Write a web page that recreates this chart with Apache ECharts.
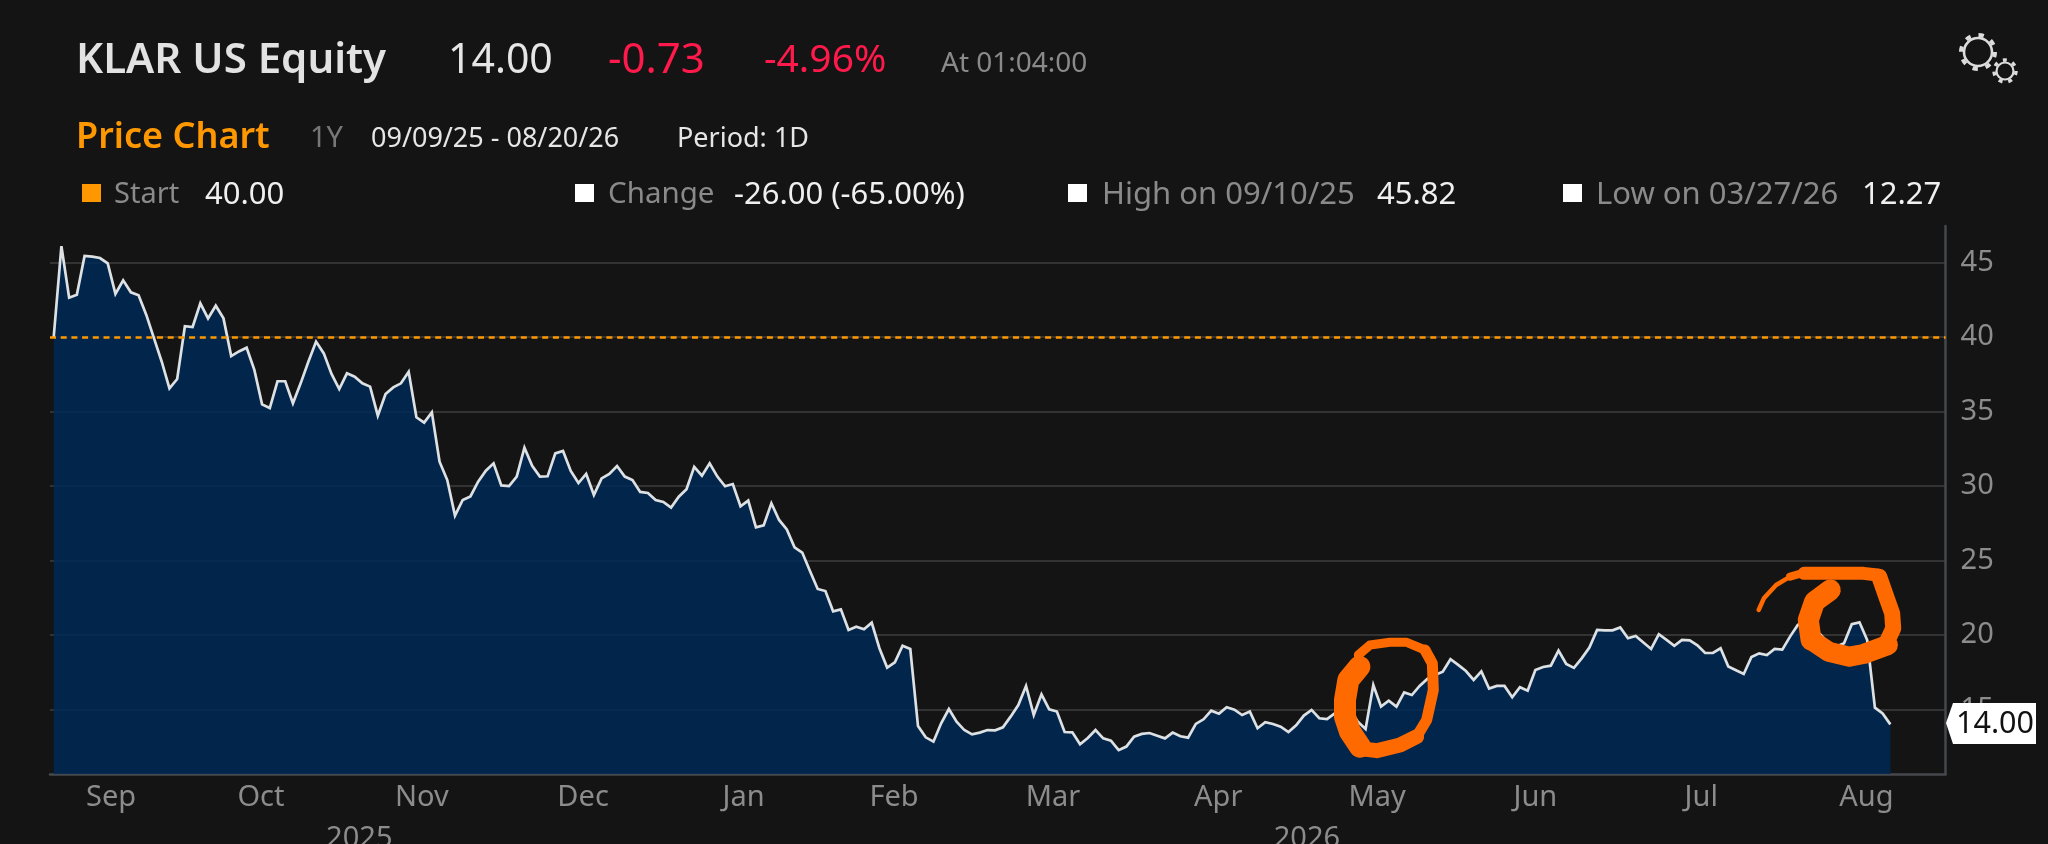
<!DOCTYPE html>
<html><head><meta charset="utf-8">
<style>html,body{margin:0;padding:0;background:#141414;overflow:hidden}#c{width:2048px;height:844px}</style>
<script src="https://cdn.jsdelivr.net/npm/echarts@6/dist/echarts.min.js"></script>
</head><body><div id="c"></div>
<script>
// ---- data ----
const prices = [
40.00,46.10,42.64,42.84,45.44,45.39,45.30,44.94,42.89,43.80,43.00,42.80,41.48,39.91,38.34,36.55,37.18,40.72,40.67,42.26,
41.25,42.10,41.25,38.72,39.03,39.28,37.79,35.48,35.23,37.03,37.03,35.55,36.89,38.34,39.69,38.90,37.52,36.51,37.56,37.34,
36.89,36.67,34.72,36.17,36.62,36.89,37.67,34.61,34.25,34.94,31.63,30.40,28.01,29.06,29.30,30.29,31.03,31.52,30.04,30.00,30.63,
32.57,31.36,30.63,30.65,32.19,32.35,31.01,30.20,30.81,29.40,30.51,30.81,31.34,30.63,30.40,29.60,29.53,29.06,28.93,28.55,
29.28,29.78,31.28,30.69,31.52,30.63,29.98,30.13,28.64,29.02,27.23,27.36,28.84,27.72,27.09,25.88,25.53,24.30,23.09,22.95,
21.59,21.72,20.34,20.56,20.38,20.83,19.11,17.81,18.17,19.28,19.06,13.89,13.13,12.84,14.07,15.03,14.18,13.62,13.33,13.45,
13.62,13.60,13.80,14.52,15.30,
16.58,14.63,16.02,15.01,14.86,13.49,13.47,12.66,13.09,13.62,13.06,12.91,12.27,12.51,13.18,13.36,13.42,13.24,13.06,13.45,
13.20,13.11,14.03,14.34,14.92,14.72,15.15,14.99,14.63,14.86,13.74,14.14,14.03,13.85,13.49,13.94,14.59,14.97,14.41,14.36,
14.74,15.08,14.97,14.18,13.69,16.64,15.19,15.59,15.19,16.15,15.97,16.58,17.05,17.32,17.54,18.37,17.99,17.58,16.98,17.56,
16.40,16.58,16.58,15.82,16.49,
16.26,17.65,17.85,17.94,18.95,18.05,17.79,18.43,19.15,20.34,20.31,20.31,20.51,19.78,19.93,19.49,19.06,20.05,19.67,19.28,
19.67,19.64,19.31,18.79,18.79,19.11,17.88,17.63,17.38,18.52,18.77,18.66,19.06,19.02,19.89,20.67,21.00,20.45,20.00,19.44,
19.22,19.44,20.72,20.85,19.66,15.12,14.74,14.00];
const startPrice = 40;
const yTicks = [15,20,25,30,35,40,45];
const months = ['Sep','Oct','Nov','Dec','Jan','Feb','Mar','Apr','May','Jun','Jul','Aug'];
const monthDays = [7.43,26.86,47.7,68.6,89.4,108.9,129.5,150.9,171.5,192.0,213.5,234.9];
const years = ['2025','2026'];
const yearDays = [39.6,162.4];
const ticker='KLAR US Equity', last='14.00', chg='-0.73', chgPct='-4.96%', asOf='At 01:04:00';
const subTitle='Price Chart', span='1Y', range='09/09/25 - 08/20/26', period='Period: 1D';

// ---- helpers ----
const FF='"Noto Sans",sans-serif';
const seriesData = prices.map((v,i)=>[i,v]);
function T(x,y,text,size,fill,weight){return {type:'text',z:100,style:{x,y,text,fontSize:size,fontFamily:FF,fontWeight:weight||400,fill,align:'left',verticalAlign:'middle'}};}
function Sq(x,y,fill){return {type:'rect',z:100,shape:{x,y,width:19,height:18},style:{fill}};}
const z5=p=>p.map(([X,Y])=>[1000+X/3,600+Y/3]);
const z6=p=>p.map(([X,Y])=>[1500+X/2.861,540+Y/3]);
const INK='#ff6a00';
function stroke(points,w){return {type:'polyline',z:120,shape:{points},style:{stroke:INK,fill:null,lineWidth:w,lineCap:'round',lineJoin:'round'}};}
const scribbles=[
 stroke(z5([[1078,200],[1045,240],[1035,300],[1035,350],[1050,395],[1080,440]]),22),
 stroke(z5([[1075,445],[1130,452],[1200,435],[1250,410]]),15),
 stroke(z5([[1250,410],[1280,360],[1300,270],[1297,190],[1275,150]]),11),
 stroke(z5([[1275,150],[1220,127],[1170,127],[1110,135],[1075,165]]),9),
 stroke(z6([[740,210],[755,175],[790,135],[830,110]]),4.5),
 stroke(z6([[830,110],[870,98]]),8),
 stroke(z6([[870,100],[950,100],[1040,100],[1080,105]]),13),
 stroke(z6([[1085,110],[1105,170],[1122,220],[1125,265],[1105,310]]),16),
 stroke(z6([[1110,315],[1040,342],[1000,350],[940,335],[890,300]]),20),
 stroke(z6([[890,300],[882,240],[900,185],[945,150]]),21)
];
function gear(cx,cy,r,w,tooth,tw,n){const c=2*Math.PI*tooth,d=c/n;return [
 {type:'circle',z:100,shape:{cx,cy,r},style:{fill:null,stroke:'#dcdcdc',lineWidth:w}},
 {type:'circle',z:100,shape:{cx,cy,r:tooth},style:{fill:null,stroke:'#dcdcdc',lineWidth:tw,lineDash:[d*0.4,d*0.6]}}
];}

const chart=echarts.init(document.getElementById('c'),null,{renderer:'canvas'});
chart.setOption({
 animation:false,backgroundColor:'#141414',
 grid:{left:50,top:226,width:1895.6,height:548,outerBoundsMode:'none'},
 xAxis:[
  {type:'value',position:'bottom',min:-0.48,max:245.16,splitLine:{show:false},axisTick:{show:false},
   axisLine:{show:true,onZero:false,lineStyle:{color:'#45484c',width:2.5}},
   axisLabel:{customValues:monthDays,margin:9,color:'#8c8c8c',fontSize:29,fontFamily:FF,
     formatter:v=>months[monthDays.indexOf(v)]}},
  {type:'value',position:'bottom',min:-0.48,max:245.16,splitLine:{show:false},axisTick:{show:false},axisLine:{show:false},
   axisLabel:{customValues:yearDays,margin:50,color:'#8c8c8c',fontSize:29,fontFamily:FF,hideOverlap:false,
     formatter:v=>years[yearDays.indexOf(v)]}}
 ],
 yAxis:{type:'value',position:'right',min:10.67,max:47.45,
  axisLine:{show:true,onZero:false,lineStyle:{color:'#45484c',width:2.5}},axisTick:{show:false,customValues:yTicks},
  splitLine:{show:true,lineStyle:{color:'#333333',width:2}},
  axisLabel:{customValues:yTicks,margin:15,color:'#8c8c8c',fontSize:29,fontFamily:FF,padding:[0,0,6,0]}},
 series:[{type:'line',data:seriesData,showSymbol:false,symbol:'none',silent:true,clip:true,
  lineStyle:{color:'#dde1e4',width:2.7,join:'miter',miterLimit:6},
  areaStyle:{color:'#002956',opacity:0.86,origin:'start'},
  markLine:{silent:true,symbol:'none',label:{show:false},animation:false,
   lineStyle:{color:'#ff9800',width:2.6,type:[6,4.7]},data:[{yAxis:startPrice}]}
 }],
 graphic:{elements:[
  T(76,61,ticker,42,'#e2e2e2',600),T(448,61,last,41,'#e6e6e6'),T(608,61,chg,42,'#ff1a4b'),T(764,61,chgPct,39,'#ff1a4b'),T(941,64,asOf,28,'#8a8a8a'),
  T(76,138,subTitle,36,'#ff9800',600),T(310,139,span,29,'#777777'),T(371,139,range,27,'#e6e6e6'),T(677,139,period,27,'#e6e6e6'),
  Sq(82,184,'#ff9800'),T(114,195,'Start',29,'#8a8a8a'),T(205,195,'40.00',31,'#f0f0f0'),
  Sq(575,184,'#ffffff'),T(608,195,'Change',29.5,'#8a8a8a'),T(734,195,'-26.00 (-65.00%)',31,'#f0f0f0'),
  Sq(1068,184,'#ffffff'),T(1102,195,'High on 09/10/25',31,'#8a8a8a'),T(1377,195,'45.82',31,'#f0f0f0'),
  Sq(1563,184,'#ffffff'),T(1596,195,'Low on 03/27/26',31,'#8a8a8a'),T(1862,195,'12.27',31,'#f0f0f0'),
  ...gear(1978,52,14,2.6,17,4,8),...gear(2005,71,8.5,2.2,11,3.5,7),
  {type:'polygon',z:110,shape:{points:[[1946,723],[1953,703],[2036,703],[2036,744],[1953,744]]},style:{fill:'#ffffff'}},
  Object.assign(T(1956,724,last,30.5,'#111111'),{z:111}),
  ...scribbles
 ]}
});
</script></body></html>
